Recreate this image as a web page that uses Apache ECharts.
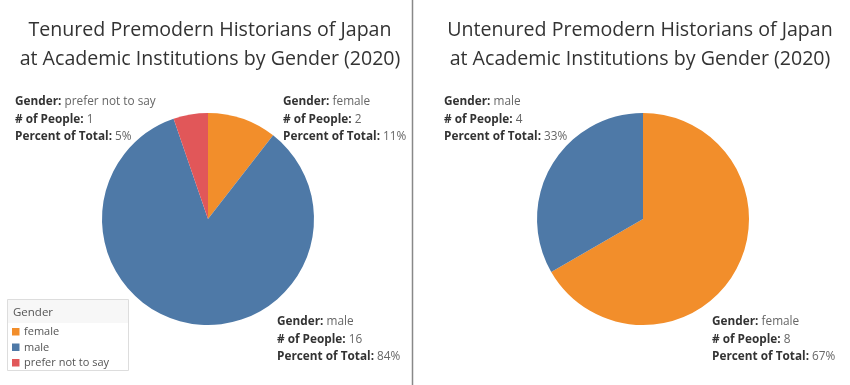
<!DOCTYPE html>
<html>
<head>
<meta charset="utf-8">
<script src="https://cdn.jsdelivr.net/npm/echarts@6/dist/echarts.min.js"></script>
<style>html,body{margin:0;padding:0;background:#fff}#c{width:850px;height:385px}</style>
</head>
<body>
<div id="c"></div>
<script>
const genders = ['female', 'male', 'prefer not to say'];
const colors = ['#F28E2B', '#4E79A7', '#E15759'];
const tenuredCounts = [2, 16, 1];
const untenuredCategories = ['female', 'male'];
const untenuredCounts = [8, 4];
const tenuredTitle = 'Tenured Premodern Historians of Japan\nat Academic Institutions by Gender (2020)';
const untenuredTitle = 'Untenured Premodern Historians of Japan\nat Academic Institutions by Gender (2020)';

const FONT = '"Open Sans", "Noto Sans", sans-serif';

function pct(arr, i) {
  const t = arr.reduce((a, b) => a + b, 0);
  return Math.round(arr[i] / t * 100) + '%';
}
function labelText(name, count, p) {
  return '{b|Gender:} {v|' + name + '}\n{b|# of People:} {v|' + count + '}\n{b|Percent of Total:} {v|' + p + '}';
}
const rich = {
  b: { fontFamily: FONT, fontSize: 11.8, fontWeight: 'bold', fill: '#333', lineHeight: 17.5 },
  v: { fontFamily: FONT, fontSize: 11.8, fill: '#666', lineHeight: 17.5 }
};
function lbl(x, y, name, count, p) {
  return { type: 'text', left: x, top: y, style: { text: labelText(name, count, p), rich: rich, font: '12px ' + FONT } };
}

const chart = echarts.init(document.getElementById('c'), null, { renderer: 'canvas' });
const tenuredData = genders.map((g, i) => ({ name: g, value: tenuredCounts[i], itemStyle: { color: colors[i] } }));
const untenuredData = untenuredCategories.map((g, i) => ({ name: g, value: untenuredCounts[i], itemStyle: { color: colors[genders.indexOf(g)] } }));

chart.setOption({
  animation: false,
  title: [
    { text: tenuredTitle, left: 205, top: 11, textAlign: 'center',
      textStyle: { fontFamily: FONT, fontSize: 19.6, fontWeight: 'normal', color: '#333', lineHeight: 29 } },
    { text: untenuredTitle, left: 635, top: 11, textAlign: 'center',
      textStyle: { fontFamily: FONT, fontSize: 19.6, fontWeight: 'normal', color: '#333', lineHeight: 29 } }
  ],
  series: [
    { type: 'pie', center: [208, 219], radius: [0, 106], startAngle: 90, clockwise: true,
      label: { show: false }, labelLine: { show: false }, silent: true, data: tenuredData },
    { type: 'pie', center: [643, 219], radius: [0, 106], startAngle: 90, clockwise: true,
      label: { show: false }, labelLine: { show: false }, silent: true, data: untenuredData }
  ],
  graphic: [
    { type: 'line', shape: { x1: 412.5, y1: 0, x2: 412.5, y2: 385 }, style: { stroke: '#888', lineWidth: 1.5 } },
    lbl(15, 96, genders[2], tenuredCounts[2], pct(tenuredCounts, 2)),
    lbl(283, 96, genders[0], tenuredCounts[0], pct(tenuredCounts, 0)),
    lbl(277, 316, genders[1], tenuredCounts[1], pct(tenuredCounts, 1)),
    lbl(444, 96, untenuredCategories[1], untenuredCounts[1], pct(untenuredCounts, 1)),
    lbl(712, 316, untenuredCategories[0], untenuredCounts[0], pct(untenuredCounts, 0)),
    // legend box
    { type: 'rect', shape: { x: 7.5, y: 299.5, width: 121, height: 71 }, style: { fill: '#fff', stroke: '#ddd', lineWidth: 1 } },
    { type: 'rect', shape: { x: 8, y: 300, width: 120, height: 23 }, style: { fill: '#f7f7f7' } },
    { type: 'text', x: 13, y: 312.5, style: { text: 'Gender', font: '11.5px ' + FONT, fill: '#555', verticalAlign: 'middle' } },
    ...genders.map((g, i) => ({ type: 'group', children: [
      { type: 'rect', shape: { x: 12, y: 328 + i * 15.5, width: 7.5, height: 7.5 }, style: { fill: colors[i] } },
      { type: 'text', x: 24, y: 332.3 + i * 15.5, style: { text: g, font: '11px ' + FONT, fill: '#555', verticalAlign: 'middle' } }
    ] }))
  ]
});
</script>
</body>
</html>
